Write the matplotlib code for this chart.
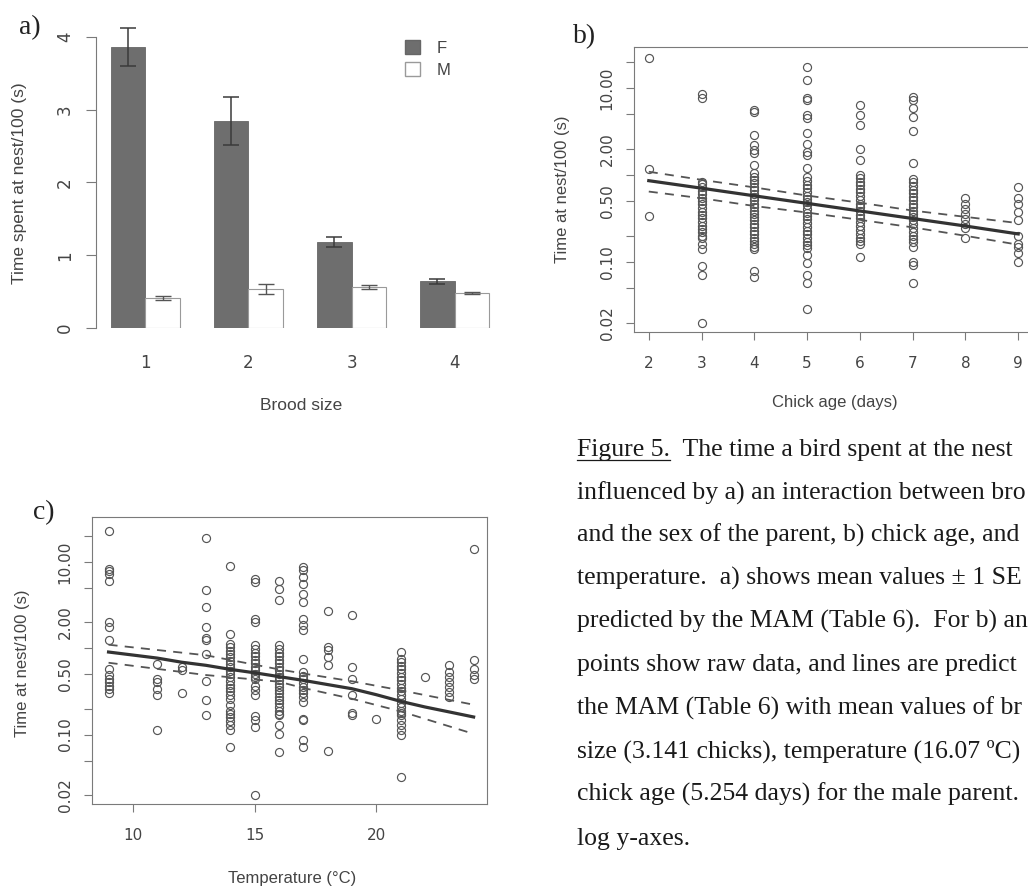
import numpy as np
import matplotlib
matplotlib.use("Agg")
from matplotlib import pyplot as plt
from matplotlib.lines import Line2D
from matplotlib.patches import Patch
from matplotlib.ticker import NullLocator
from matplotlib.font_manager import FontProperties

W, H = 1028, 886

# a) mean time at nest by brood size and parent sex
brood_sizes = ["1", "2", "3", "4"]
female_mean = [3.86, 2.84, 1.18, 0.64]
female_se = [0.26, 0.33, 0.07, 0.03]
male_mean = [0.41, 0.54, 0.56, 0.48]
male_se = [0.03, 0.07, 0.03, 0.01]

# b) raw data by chick age (days), one list per age
b_ages = [2, 3, 4, 5, 6, 7, 8, 9]
b_day2 = [22.3, 1.17, 0.34]
b_day3 = [8.5, 7.6, 0.84, 0.78, 0.72, 0.66, 0.60, 0.55, 0.50, 0.46, 0.42, 0.38, 0.35, 0.32,
          0.29, 0.26, 0.24, 0.22, 0.20, 0.19, 0.16, 0.14, 0.089, 0.071, 0.020]
b_day4 = [5.6, 5.3, 2.9, 2.2, 1.94, 1.79, 1.3, 1.05, 0.96, 0.88, 0.8, 0.73, 0.67, 0.61, 0.56,
          0.51, 0.47, 0.43, 0.39, 0.36, 0.33, 0.30, 0.27, 0.25, 0.23, 0.21, 0.19, 0.175, 0.16,
          0.15, 0.14, 0.078, 0.068]
b_day5 = [17.6, 12.4, 7.6, 7.3, 4.9, 4.5, 3.0, 2.3, 1.86, 1.7, 1.2, 0.95, 0.86, 0.77, 0.70,
          0.64, 0.58, 0.53, 0.49, 0.45, 0.41, 0.37, 0.34, 0.31, 0.28, 0.255, 0.23, 0.21, 0.19,
          0.17, 0.155, 0.145, 0.12, 0.098, 0.071, 0.058, 0.029]
b_day6 = [6.4, 4.9, 3.8, 2.0, 1.5, 1.0, 0.92, 0.84, 0.76, 0.69, 0.63, 0.57, 0.52, 0.47, 0.43,
          0.39, 0.35, 0.32, 0.29, 0.26, 0.235, 0.21, 0.19, 0.175, 0.16, 0.115]
b_day7 = [7.9, 7.3, 5.9, 4.7, 3.2, 1.36, 0.91, 0.83, 0.75, 0.68, 0.62, 0.56, 0.51, 0.47, 0.43,
          0.39, 0.36, 0.33, 0.30, 0.27, 0.245, 0.22, 0.2, 0.185, 0.17, 0.15, 0.10, 0.093, 0.057]
b_day8 = [0.54, 0.47, 0.41, 0.36, 0.31, 0.27, 0.245, 0.19]
b_day9 = [0.72, 0.54, 0.46, 0.38, 0.30, 0.20, 0.16, 0.15, 0.126, 0.10]
b_columns = [b_day2, b_day3, b_day4, b_day5, b_day6, b_day7, b_day8, b_day9]
# predicted line and CI read at each age
b_fit = [0.86, 0.705, 0.576, 0.472, 0.386, 0.316, 0.259, 0.21]
b_upper = [1.09, 0.88, 0.72, 0.58, 0.48, 0.39, 0.33, 0.28]
b_lower = [0.645, 0.54, 0.44, 0.37, 0.305, 0.25, 0.20, 0.158]

# c) raw data by temperature (deg C), one list per temperature
c_temps = [9, 11, 12, 13, 14, 15, 16, 17, 18, 19, 20, 21, 22, 23, 24]
c_t9 = [22.7, 8.4, 7.8, 7.3, 6.0, 2.0, 1.77, 1.24, 0.58, 0.49, 0.44, 0.41, 0.37, 0.34, 0.30]
c_t11 = [0.66, 0.44, 0.41, 0.34, 0.285, 0.112]
c_t12 = [0.61, 0.556, 0.30]
c_t13 = [19.0, 4.7, 3.0, 1.77, 1.32, 1.24, 0.87, 0.42, 0.25, 0.17]
c_t14 = [9.1, 1.48, 1.13, 1.03, 0.94, 0.86, 0.79, 0.72, 0.66, 0.60, 0.55, 0.50, 0.46, 0.42,
         0.38, 0.35, 0.32, 0.29, 0.26, 0.22, 0.19, 0.175, 0.16, 0.145, 0.128, 0.112, 0.072]
c_t15 = [6.4, 5.9, 2.2, 2.0, 1.08, 0.98, 0.89, 0.81, 0.74, 0.67, 0.61, 0.56, 0.51, 0.47, 0.44,
         0.37, 0.33, 0.285, 0.164, 0.147, 0.122, 0.020]
c_t16 = [6.1, 4.9, 3.6, 1.08, 0.98, 0.89, 0.81, 0.74, 0.67, 0.61, 0.56, 0.51, 0.47, 0.43,
         0.39, 0.36, 0.33, 0.30, 0.27, 0.25, 0.23, 0.21, 0.19, 0.175, 0.167, 0.129, 0.102, 0.063]
c_t17 = [8.8, 8.0, 6.7, 5.6, 4.3, 3.4, 2.2, 1.85, 1.62, 0.76, 0.53, 0.48, 0.44, 0.40, 0.36,
         0.33, 0.30, 0.27, 0.24, 0.153, 0.147, 0.086, 0.072]
c_t18 = [2.7, 1.03, 0.95, 0.79, 0.64, 0.064]
c_t19 = [2.4, 0.61, 0.44, 0.285, 0.18, 0.167]
c_t20 = [0.15]
c_t21 = [0.91, 0.76, 0.69, 0.63, 0.57, 0.52, 0.47, 0.43, 0.39, 0.35, 0.32, 0.29, 0.26, 0.235,
         0.21, 0.19, 0.18, 0.167, 0.147, 0.128, 0.112, 0.098, 0.032]
c_t22 = [0.465]
c_t23 = [0.645, 0.53, 0.465, 0.41, 0.356, 0.31, 0.27]
c_t24 = [14.0, 0.73, 0.58, 0.49, 0.44]
c_columns = [c_t9, c_t11, c_t12, c_t13, c_t14, c_t15, c_t16, c_t17, c_t18, c_t19, c_t20,
             c_t21, c_t22, c_t23, c_t24]
c_fit_x = [9, 10, 11, 12, 13, 14, 15, 16, 17, 18, 19, 20, 21, 22, 23, 24]
c_fit = [0.905, 0.835, 0.77, 0.69, 0.635, 0.57, 0.52, 0.47, 0.425, 0.38, 0.34, 0.29, 0.243,
         0.209, 0.183, 0.16]
c_ci_x = [9, 13, 16, 17, 19, 21, 24]
c_upper = [1.10, 0.83, 0.57, 0.51, 0.415, 0.326, 0.222]
c_lower = [0.68, 0.49, 0.41, 0.347, 0.26, 0.186, 0.102]

log_ticks = [0.02, 0.05, 0.1, 0.2, 0.5, 1, 2, 5, 10, 20]
log_labels = ["0.02", "", "0.10", "", "0.50", "", "2.00", "", "10.00", ""]

caption = [
    "Figure 5.  The time a bird spent at the nest",
    "influenced by a) an interaction between bro",
    "and the sex of the parent, b) chick age, and",
    "temperature.  a) shows mean values \u00b1 1 SE",
    "predicted by the MAM (Table 6).  For b) an",
    "points show raw data, and lines are predict",
    "the MAM (Table 6) with mean values of br",
    "size (3.141 chicks), temperature (16.07 \u00baC)",
    "chick age (5.254 days) for the male parent.",
    "log y-axes.",
]

SANS = "Liberation Sans"
SERIF = "Liberation Serif"
AX = "#7a7a7a"
TXT = "#444444"


def px_box(left, top, right, bottom):
    return [left / W, 1 - bottom / H, (right - left) / W, (bottom - top) / H]


def fx(x):
    return x / W


def fy(y):
    return 1 - y / H


fig = plt.figure(figsize=(W / 100, H / 100), dpi=100)
fig.patch.set_facecolor("white")

# ---------- a) ----------
ax_a = fig.add_axes(px_box(96, 22.4, 504, 328))
pos = np.arange(len(brood_sizes)) * 3
ax_a.bar(pos + 1.5, female_mean, width=1, color="#6e6e6e", edgecolor="#666666", linewidth=0.6)
ax_a.bar(pos + 2.5, male_mean, width=1, color="white", edgecolor="#9a9a9a", linewidth=0.8)
ax_a.errorbar(pos + 1.5, female_mean, yerr=female_se, fmt="none", ecolor="#3a3a3a",
              elinewidth=1.1, capsize=6, capthick=1.1)
ax_a.errorbar(pos + 2.5, male_mean, yerr=male_se, fmt="none", ecolor="#555555",
              elinewidth=1.0, capsize=6, capthick=1.0)
ax_a.set_xlim(0.56, 12.44)
ax_a.set_ylim(0, 4.2)
for s in ["top", "right", "bottom"]:
    ax_a.spines[s].set_visible(False)
ax_a.spines["left"].set_bounds(0, 4)
ax_a.spines["left"].set_color(AX)
ax_a.set_yticks([0, 1, 2, 3, 4])
ax_a.set_xticks(pos + 2)
ax_a.set_xticklabels(brood_sizes)
ax_a.tick_params(axis="x", length=0, pad=19, labelsize=12, labelcolor=TXT)
ax_a.tick_params(axis="y", length=7, width=0.8, color=AX, pad=9, labelsize=12,
                 labelcolor=TXT, labelrotation=90)
for t in ax_a.get_yticklabels():
    t.set_va("center")
ax_a.legend(handles=[Patch(facecolor="#6e6e6e", edgecolor="#666666", label="F"),
                     Patch(facecolor="white", edgecolor="#9a9a9a", label="M")],
            loc="upper left", bbox_to_anchor=(0.72, 0.99), frameon=False,
            handlelength=0.9, handleheight=0.9, handletextpad=1.0, labelspacing=0.35,
            prop={"family": SANS, "size": 12}, labelcolor=TXT)
fig.text(fx(301), fy(405), "Brood size", ha="center", va="center", fontsize=12.5,
         family=SANS, color=TXT)
fig.text(fx(20), fy(183), "Time spent at nest/100 (s)", ha="center", va="center",
         rotation=90, fontsize=12.5, family=SANS, color=TXT)
fig.text(fx(30), fy(28), "a)", ha="center", va="center", fontsize=20, family=SERIF,
         color="#222222")


def scatter_panel(ax, xs, cols, xlim, ylim):
    for x, col in zip(xs, cols):
        ax.plot([x] * len(col), col, linestyle="none", marker="o", ms=5.8, mfc="none",
                mec="#555555", mew=0.85)
    ax.set_yscale("log")
    ax.set_xlim(*xlim)
    ax.set_ylim(*ylim)
    ax.set_yticks(log_ticks)
    ax.set_yticklabels(log_labels)
    ax.yaxis.set_minor_locator(NullLocator())
    for s in ax.spines.values():
        s.set_color(AX)
        s.set_linewidth(0.8)
    ax.tick_params(axis="both", length=6, width=0.8, color=AX, labelsize=11,
                   labelcolor=TXT)
    ax.tick_params(axis="y", labelrotation=90, pad=8)
    ax.tick_params(axis="x", pad=11)
    for t in ax.get_yticklabels():
        t.set_va("center")


# ---------- b) ----------
ax_b = fig.add_axes(px_box(634, 47, 1033, 332))
scatter_panel(ax_b, b_ages, b_columns, (1.72, 9.28), (0.01567, 29.6))
ax_b.plot(b_ages, b_fit, color="#333333", lw=2.3)
ax_b.plot(b_ages, b_upper, color="#555555", lw=1.3, ls=(0, (5, 4)))
ax_b.plot(b_ages, b_lower, color="#555555", lw=1.3, ls=(0, (5, 4)))
ax_b.set_xticks(b_ages)
fig.text(fx(835), fy(403), "Chick age (days)", ha="center", va="center", fontsize=12,
         family=SANS, color=TXT)
fig.text(fx(562), fy(189), "Time at nest/100 (s)", ha="center", va="center",
         rotation=90, fontsize=12, family=SANS, color=TXT)
fig.text(fx(585), fy(37), "b)", ha="center", va="center", fontsize=20, family=SERIF,
         color="#222222")

# ---------- c) ----------
ax_c = fig.add_axes(px_box(92, 517, 487, 804))
scatter_panel(ax_c, c_temps, c_columns, (8.32, 24.55), (0.0157, 33.2))
ax_c.plot(c_fit_x, c_fit, color="#333333", lw=2.3)
ax_c.plot(c_ci_x, c_upper, color="#555555", lw=1.3, ls=(0, (5, 4)))
ax_c.plot(c_ci_x, c_lower, color="#555555", lw=1.3, ls=(0, (5, 4)))
ax_c.set_xticks([10, 15, 20])
fig.text(fx(292), fy(878), "Temperature (\u00b0C)", ha="center", va="center", fontsize=12,
         family=SANS, color=TXT)
fig.text(fx(23), fy(663), "Time at nest/100 (s)", ha="center", va="center",
         rotation=90, fontsize=12, family=SANS, color=TXT)
fig.text(fx(44), fy(513), "c)", ha="center", va="center", fontsize=20, family=SERIF,
         color="#222222")

# ---------- caption ----------
cap_x = 577
baselines = [456, 500, 542, 585, 628, 671, 715, 758, 801, 845]
cap_size = 18.5
for line, yb in zip(caption, baselines):
    fig.text(fx(cap_x), fy(yb), line, ha="left", va="baseline", fontsize=cap_size,
             family=SERIF, color="#1a1a1a")

renderer = fig.canvas.get_renderer()
w_fig, _, _ = renderer.get_text_width_height_descent(
    "Figure 5.", FontProperties(family=SERIF, size=cap_size), ismath=False)
fig.add_artist(Line2D([fx(cap_x), fx(cap_x + w_fig)], [fy(baselines[0] + 4)] * 2,
                      transform=fig.transFigure, color="#1a1a1a", lw=0.9))

fig.savefig("out.png", dpi=100)
